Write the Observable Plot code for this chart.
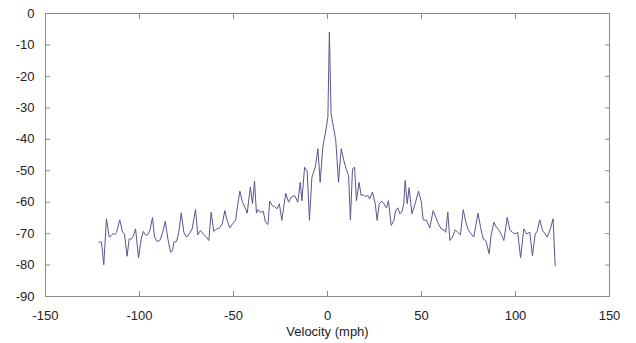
<!DOCTYPE html>
<html>
<head>
<meta charset="utf-8">
<script src="https://cdn.jsdelivr.net/npm/d3@7"></script>
<script src="https://cdn.jsdelivr.net/npm/@observablehq/plot@0.6"></script>
<style>
  html, body { margin: 0; padding: 0; background: #fff; }
  #chart { width: 636px; height: 343px; }
</style>
</head>
<body>
<div id="chart"></div>
<script>
// Velocity (mph)
const velocity = [
  -121.5, -120.2, -119.0, -117.6, -116.1, -114.9, -114.0, -113.3, -112.2, -110.5,
  -109.0, -108.0, -106.6, -105.5, -104.4, -103.4, -102.1, -100.5, -99.1, -98.0,
  -96.6, -95.6, -94.5, -93.1, -92.0, -90.6, -89.2, -87.8, -86.3, -84.9,
  -83.5, -82.4, -81.7, -80.3, -79.1, -77.8, -76.4, -75.0, -73.6, -72.0,
  -70.2, -69.0, -67.6, -66.1, -64.4, -63.1, -61.9, -60.5, -59.0, -57.6,
  -56.0, -54.6, -53.4, -52.0, -50.5, -48.9, -47.7, -46.6, -45.2, -43.8,
  -42.7, -41.7, -41.0, -39.9, -38.8, -37.8, -37.1, -35.6, -34.2, -33.0,
  -31.7, -30.7, -29.4, -28.2, -26.8, -25.6, -24.3, -22.2, -20.7, -19.3,
  -17.5, -15.8, -14.5, -13.6, -12.2, -10.8, -9.6, -8.3, -6.5, -5.1,
  -3.9, -2.5, -1.2, 0.2, 1.0, 1.9, 3.2, 4.4, 5.85, 7.3,
  8.7, 9.9, 11.2, 12.2, 13.3, 14.4, 15.4, 16.8, 17.9, 19.0,
  20.0, 21.5, 22.5, 23.9, 25.4, 26.4, 27.5, 28.9, 30.0, 31.4,
  32.4, 33.9, 35.3, 36.3, 37.4, 38.5, 39.5, 40.6, 41.3, 42.4,
  43.4, 44.9, 46.6, 48.4, 49.8, 50.9, 52.7, 54.4, 56.2, 57.6,
  59.0, 60.5, 61.9, 62.9, 64.0, 65.1, 66.5, 67.9, 69.3, 70.7,
  72.2, 73.6, 75.0, 76.4, 77.8, 78.9, 80.1, 81.4, 82.8, 84.2,
  86.0, 87.0, 88.5, 89.9, 91.3, 92.7, 93.8, 95.6, 97.0, 98.4,
  99.8, 101.2, 102.7, 104.4, 105.9, 107.6, 109.0, 110.5, 111.5, 112.9,
  114.4, 115.8, 116.8, 118.3, 120.0, 121.1
];
// Level (dB)
const level = [
  -72.7, -72.7, -79.9, -65.3, -71.1, -70.6, -69.9, -70.4, -69.6, -65.6,
  -69.6, -70.1, -77.2, -71.7, -71.7, -70.9, -68.5, -77.7, -71.7, -69.3,
  -70.6, -70.3, -69.0, -64.9, -71.1, -72.5, -72.2, -69.9, -66.1, -71.7,
  -75.9, -75.4, -72.7, -72.5, -69.6, -63.4, -69.6, -71.1, -70.1, -68.5,
  -62.3, -70.4, -69.0, -70.1, -71.1, -72.2, -63.2, -69.3, -68.5, -68.3,
  -66.9, -62.7, -65.8, -68.2, -66.9, -65.8, -60.5, -56.5, -60.0, -61.8,
  -63.5, -58.4, -55.2, -60.5, -53.3, -63.5, -62.4, -63.2, -62.9, -66.4,
  -67.1, -59.7, -61.1, -61.4, -62.1, -60.5, -65.8, -57.2, -60.0, -58.4,
  -57.9, -60.0, -53.7, -59.5, -48.9, -50.2, -65.8, -52.1, -48.9, -43.0,
  -53.7, -42.5, -38.3, -33.0, -5.9, -31.9, -36.2, -40.4, -53.7, -43.0,
  -46.8, -49.4, -51.5, -65.6, -49.4, -48.9, -59.5, -53.7, -57.9, -57.6,
  -58.2, -57.9, -58.9, -56.8, -60.5, -65.8, -60.5, -59.7, -60.5, -61.8,
  -59.5, -67.4, -65.8, -62.7, -61.8, -63.7, -63.2, -60.5, -53.1, -60.5,
  -55.4, -63.7, -60.5, -56.5, -59.5, -65.6, -65.8, -68.2, -62.7, -64.8,
  -66.9, -68.5, -68.8, -69.6, -63.2, -72.2, -71.1, -68.8, -69.6, -70.4,
  -62.4, -66.4, -69.0, -70.1, -71.1, -67.4, -63.5, -68.0, -71.7, -72.2,
  -76.4, -70.6, -66.4, -68.0, -69.0, -70.6, -72.2, -64.8, -68.8, -69.6,
  -70.1, -69.6, -77.7, -68.5, -70.1, -69.6, -77.0, -70.1, -69.3, -65.6,
  -69.0, -70.1, -71.1, -69.0, -65.3, -80.2
];
const xTicks = [-150, -100, -50, 0, 50, 100, 150];
const yTicks = [0, -10, -20, -30, -40, -50, -60, -70, -80, -90];
const xLabel = "Velocity (mph)";

const data = velocity.map((v, i) => ({v, p: level[i]}));
const fmt = d => String(d);
const frameGray = "#8c8c8c";
const textColor = "#222";

const chart = Plot.plot({
  width: 636,
  height: 343,
  marginLeft: 45,
  marginRight: 27,
  marginTop: 13,
  marginBottom: 47,
  style: {fontFamily: "'Liberation Sans', Arial, sans-serif", fontSize: "13px", background: "#fff", color: textColor},
  x: {domain: [-150, 150]},
  y: {domain: [-90, 0]},
  marks: [
    Plot.frame({stroke: frameGray}),
    // tick labels
    Plot.axisY(yTicks, {anchor: "left", tickSize: 0, tickPadding: 11, tickFormat: fmt, label: null, fill: textColor, fontSize: 13}),
    Plot.axisX(xTicks, {anchor: "bottom", tickSize: 0, tickPadding: 14, tickFormat: fmt, label: null, fill: textColor, fontSize: 13}),
    // inward tick marks
    Plot.axisY(yTicks.slice(1, -1), {anchor: "left", tickSize: 5, dx: 5, tickFormat: () => "", label: null, stroke: frameGray}),
    Plot.axisY(yTicks.slice(1, -1), {anchor: "right", tickSize: 5, dx: -5, tickFormat: () => "", label: null, stroke: frameGray}),
    Plot.axisX(xTicks.slice(1, -1), {anchor: "bottom", tickSize: 5, dy: -5, tickFormat: () => "", label: null, stroke: frameGray}),
    Plot.axisX(xTicks.slice(1, -1), {anchor: "top", tickSize: 5, dy: 5, tickFormat: () => "", label: null, stroke: frameGray}),
    Plot.line(data, {x: "v", y: "p", stroke: "#565690", strokeWidth: 1}),
    Plot.text([xLabel], {frameAnchor: "bottom", dy: 39, fontSize: 13, fill: textColor})
  ]
});
document.getElementById("chart").appendChild(chart);
</script>
</body>
</html>
